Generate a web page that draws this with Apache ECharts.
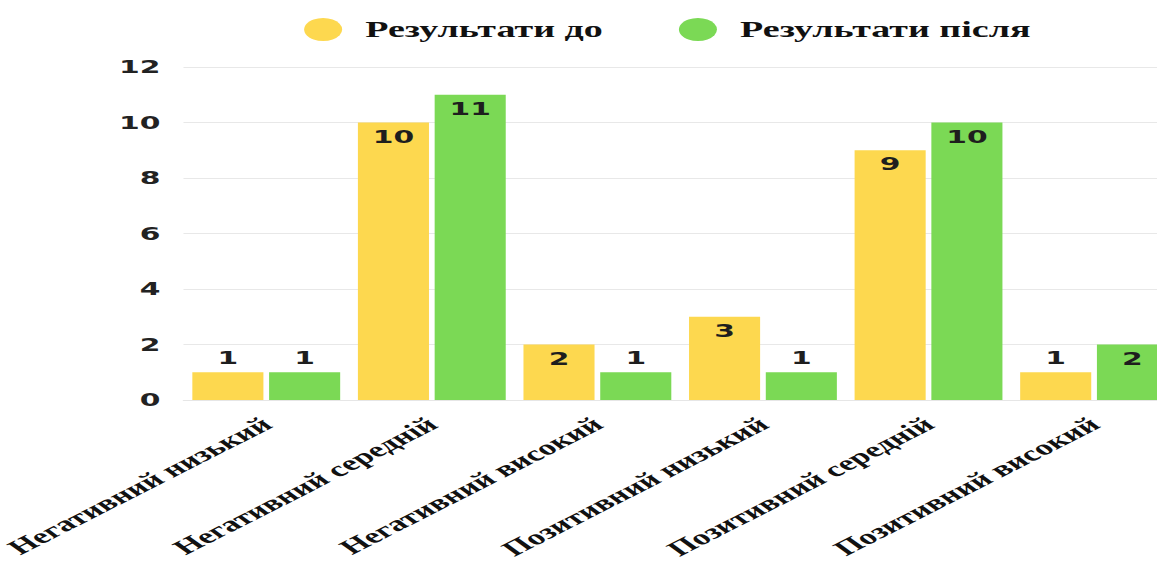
<!DOCTYPE html>
<html>
<head>
<meta charset="utf-8">
<title>Результати до і після</title>
<script src="https://cdn.jsdelivr.net/npm/echarts@6/dist/echarts.min.js"></script>
<style>
  html, body { margin: 0; padding: 0; background: #ffffff; overflow: hidden; }
  #wrap { width: 1157px; height: 565px; overflow: hidden; }
  /* chart is laid out narrow and widened horizontally */
  #chart { width: 700px; height: 565px; transform: scaleX(1.6529); transform-origin: 0 0; }
</style>
</head>
<body>
<div id="wrap"><div id="chart"></div></div>
<script>
const categories = [
  'Негативний низький',
  'Негативний середній',
  'Негативний високий',
  'Позитивний низький',
  'Позитивний середній',
  'Позитивний високий'
];
const seriesNames = ['Результати до', 'Результати після'];
const before = [1, 10, 2, 3, 9, 1];
const after = [1, 11, 1, 1, 10, 2];
const yTicks = [0, 2, 4, 6, 8, 10, 12];

const colors = ['#FDD84F', '#7BD955'];
const sansBold = { fontFamily: 'DejaVu Sans', fontWeight: 'bold' };
const serifBold = { fontFamily: 'Liberation Serif', fontWeight: 'bold' };

// short bars carry their value above, taller ones just inside the top
function withLabels(values) {
  return values.map(v => ({
    value: v,
    label: { position: v >= 2 ? 'insideTop' : 'top' }
  }));
}

const chart = echarts.init(document.getElementById('chart'), null, { renderer: 'svg' });
chart.setOption({
  animation: false,
  color: colors,
  legend: {
    top: 13,
    left: 179,
    icon: 'circle',
    itemWidth: 23,
    itemHeight: 23,
    itemGap: 46,
    data: seriesNames,
    textStyle: Object.assign({ fontSize: 23, color: '#111', padding: [0, 0, 0, 9] }, serifBold)
  },
  grid: { left: 111, right: -12, top: 67, bottom: 165, outerBoundsMode: 'none', containLabel: false },
  xAxis: {
    type: 'category',
    data: categories,
    axisTick: { show: false },
    axisLine: { show: true, lineStyle: { color: '#e6e6e6' } },
    axisLabel: Object.assign({
      rotate: 40,
      margin: 21,
      fontSize: 21,
      color: '#111',
      interval: 0
    }, serifBold)
  },
  yAxis: {
    type: 'value',
    min: yTicks[0],
    max: yTicks[yTicks.length - 1],
    interval: yTicks[1] - yTicks[0],
    axisLine: { show: false },
    axisTick: { show: false },
    splitLine: { lineStyle: { color: '#e8e8e8', width: 1 } },
    axisLabel: Object.assign({ fontSize: 18, color: '#222', margin: 14 }, sansBold)
  },
  series: [
    {
      name: seriesNames[0],
      type: 'bar',
      barWidth: 43,
      barGap: '8%',
      data: withLabels(before),
      label: Object.assign({ show: true, fontSize: 18, color: '#1e1e1e' }, sansBold)
    },
    {
      name: seriesNames[1],
      type: 'bar',
      barWidth: 43,
      barGap: '8%',
      data: withLabels(after),
      label: Object.assign({ show: true, fontSize: 18, color: '#1e1e1e' }, sansBold)
    }
  ]
});
</script>
</body>
</html>
